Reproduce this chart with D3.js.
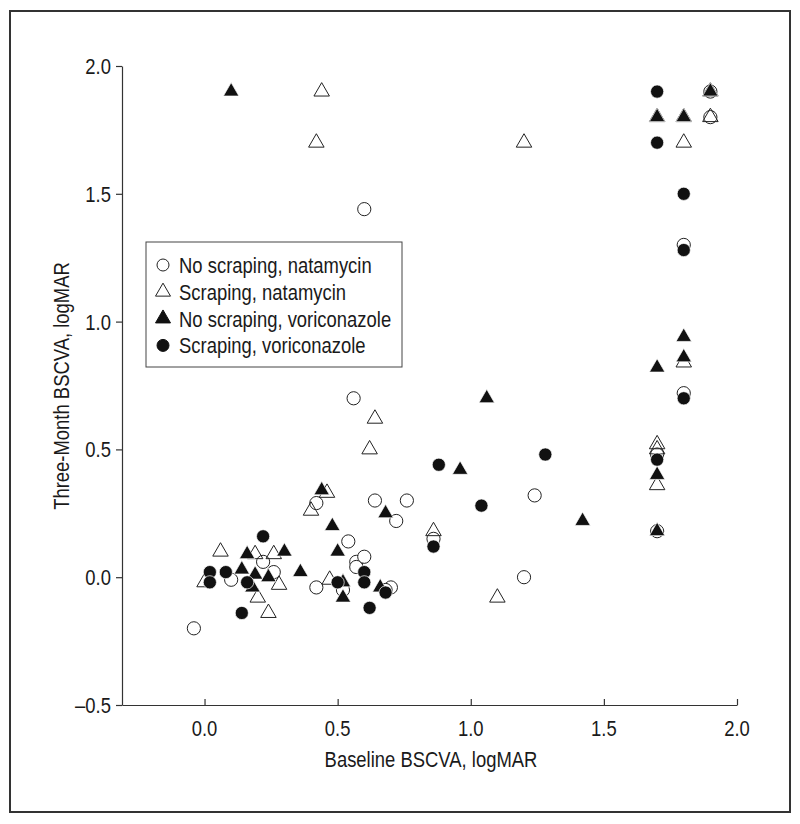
<!DOCTYPE html>
<html><head><meta charset="utf-8">
<script src="https://cdn.jsdelivr.net/npm/d3@7"></script>
<style>
html,body{margin:0;padding:0;background:#fff;}
svg text{font-family:"Liberation Sans",Arial,sans-serif;fill:#1a1a1a;}
</style></head>
<body>
<svg id="chart" width="800" height="824"></svg>
<script>
// Series: [baseline BSCVA, three-month BSCVA] (logMAR)
const noScrapingNatamycin = [
  [-0.04,-0.20],[0.10,-0.01],[0.22,0.06],[0.26,0.02],[0.42,0.29],[0.42,-0.04],
  [0.54,0.14],[0.57,0.06],[0.57,0.04],[0.60,0.08],[0.52,-0.05],[0.64,0.30],
  [0.76,0.30],[0.72,0.22],[0.70,-0.04],[0.68,-0.05],[0.56,0.70],[0.60,1.44],
  [0.86,0.15],[1.24,0.32],[1.20,0.00],[1.70,0.48],[1.70,0.18],[1.80,0.72],
  [1.80,1.30],[1.90,1.80],[1.90,1.90]
];
const scrapingNatamycin = [
  [0.00,-0.02],[0.06,0.10],[0.19,0.09],[0.26,0.09],[0.28,-0.03],[0.20,-0.08],
  [0.24,-0.14],[0.40,0.26],[0.46,0.33],[0.47,-0.01],[0.62,0.50],[0.64,0.62],
  [0.42,1.70],[0.44,1.90],[0.86,0.18],[1.10,-0.08],[1.20,1.70],[1.70,0.52],
  [1.70,0.50],[1.70,0.36],[1.70,1.80],[1.80,1.80],[1.80,1.70],[1.80,0.84],
  [1.90,1.80],[1.90,1.90]
];
const noScrapingVoriconazole = [
  [0.10,1.90],[0.16,0.09],[0.30,0.10],[0.14,0.03],[0.19,0.01],[0.24,0.00],
  [0.18,-0.04],[0.36,0.02],[0.44,0.34],[0.48,0.20],[0.50,0.10],[0.52,-0.02],
  [0.52,-0.08],[0.68,0.25],[0.66,-0.04],[0.96,0.42],[1.06,0.70],[1.42,0.22],
  [1.70,0.18],[1.70,0.40],[1.70,0.82],[1.70,1.80],[1.80,1.80],[1.80,0.86],
  [1.80,0.94],[1.90,1.90]
];
const scrapingVoriconazole = [
  [0.02,0.02],[0.02,-0.02],[0.08,0.02],[0.16,-0.02],[0.22,0.16],[0.14,-0.14],
  [0.50,-0.02],[0.60,0.02],[0.60,-0.02],[0.68,-0.06],[0.62,-0.12],[0.86,0.12],
  [0.88,0.44],[1.04,0.28],[1.28,0.48],[1.70,0.46],[1.70,1.70],[1.70,1.90],
  [1.80,1.50],[1.80,1.28],[1.80,0.70]
];
const xTicks = [0.0, 0.5, 1.0, 1.5, 2.0];
const yTicks = [-0.5, 0.0, 0.5, 1.0, 1.5, 2.0];
const legendLabels = ["No scraping, natamycin","Scraping, natamycin","No scraping, voriconazole","Scraping, voriconazole"];

const svg = d3.select("#chart");
const FS = 22.5, SX = 0.82;   // condensed look: horizontal squeeze of the text

svg.append("rect").attr("x",10).attr("y",11).attr("width",780).attr("height",801)
  .attr("fill","none").attr("stroke","#333").attr("stroke-width",2);

const x = d3.scaleLinear().domain([-0.31, 2.0]).range([122, 737]);
const y = d3.scaleLinear().domain([-0.5, 2.0]).range([705, 66]);

function ctext(g, px, py, str, anchor, rot) {
  return g.append("text")
    .attr("transform", `translate(${px},${py})` + (rot ? ` rotate(${rot})` : "") + ` scale(${SX},1)`)
    .attr("text-anchor", anchor).attr("font-size", FS).text(str);
}

// x axis (ticks inward)
const xAxis = svg.append("g").attr("transform","translate(0,705)")
  .call(d3.axisBottom(x).tickValues(xTicks).tickFormat("").tickSizeInner(-6).tickSizeOuter(0));
xAxis.select(".domain").attr("stroke","#333").attr("stroke-width",1.2);
xAxis.selectAll(".tick line").attr("stroke","#333").attr("stroke-width",1.2);
xTicks.forEach(t => ctext(svg, x(t), 736, d3.format(".1f")(t), "middle"));

// y axis (ticks outward)
const fmtY = d => d < 0 ? "\u2013" + Math.abs(d).toFixed(1) : d.toFixed(1);
const yAxis = svg.append("g").attr("transform","translate(122,0)")
  .call(d3.axisLeft(y).tickValues(yTicks).tickFormat("").tickSizeInner(6).tickSizeOuter(0));
yAxis.select(".domain").attr("stroke","#333").attr("stroke-width",1.2);
yAxis.selectAll(".tick line").attr("stroke","#333").attr("stroke-width",1.2);
yTicks.forEach(t => ctext(svg, 111, y(t) + 8, fmtY(t), "end"));

ctext(svg, 431, 767, "Baseline BSCVA, logMAR", "middle");
ctext(svg, 69, 386, "Three-Month BSCVA, logMAR", "middle", -90);

const circ = d3.symbol().type(d3.symbolCircle).size(Math.PI*6.6*6.6);
const tri = d3.symbol().type(d3.symbolTriangle).size(Math.sqrt(3)/4*15.5*15.5);

const series = [
  {data:noScrapingNatamycin, sym:circ, fill:"#fff", stroke:"#222", sw:1},
  {data:scrapingNatamycin, sym:tri, fill:"none", stroke:"#222", sw:1},
  {data:noScrapingVoriconazole, sym:tri, fill:"#111", stroke:"#fff", sw:0.7},
  {data:scrapingVoriconazole, sym:circ, fill:"#111", stroke:"#fff", sw:0.7}
];
series.forEach(s => {
  svg.append("g").selectAll("path").data(s.data).join("path")
    .attr("d", s.sym())
    .attr("transform", d => `translate(${x(d[0])},${y(d[1])})`)
    .attr("fill", s.fill).attr("stroke", s.stroke).attr("stroke-width", s.sw);
});

// legend
const lg = svg.append("g");
lg.append("rect").attr("x",146).attr("y",242).attr("width",256).attr("height",125)
  .attr("fill","#fff").attr("stroke","#444").attr("stroke-width",1);
const lcirc = d3.symbol().type(d3.symbolCircle).size(Math.PI*6*6);
const ltri = d3.symbol().type(d3.symbolTriangle).size(Math.sqrt(3)/4*15*15);
const legendSyms = [
  {sym:lcirc, fill:"#fff", stroke:"#222"},
  {sym:ltri, fill:"#fff", stroke:"#222"},
  {sym:ltri, fill:"#111", stroke:"#111"},
  {sym:lcirc, fill:"#111", stroke:"#111"}
];
legendLabels.forEach((t,i) => {
  const cy = 265 + i*26.8;
  lg.append("path").attr("d", legendSyms[i].sym())
    .attr("transform", `translate(163,${cy})`)
    .attr("fill", legendSyms[i].fill).attr("stroke", legendSyms[i].stroke).attr("stroke-width",1);
  ctext(lg, 179, cy + 8, t, "start");
});
</script>
</body></html>
